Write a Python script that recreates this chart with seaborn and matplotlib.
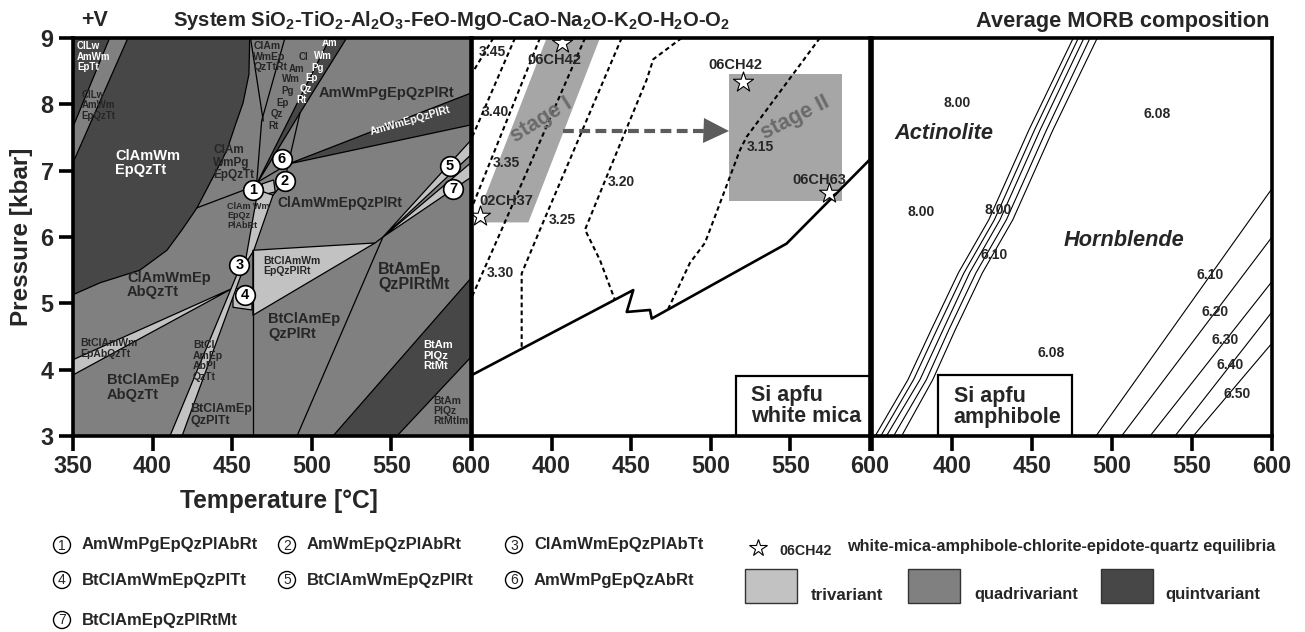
import matplotlib
matplotlib.use("Agg")
import matplotlib.pyplot as plt
from matplotlib.patches import Rectangle
import seaborn as sns

# ------------------------------------------------------------------ data
T_TICKS = [350, 400, 450, 500, 550, 600]
P_TICKS = [3, 4, 5, 6, 7, 8, 9]
T_LABELS_FIRST = ["350", "400", "450", "500", "550", "600"]
T_LABELS_NEXT = ["", "400", "450", "500", "550", "600"]
P_LABELS = ["3", "4", "5", "6", "7", "8", "9"]

# Panel 1: pseudosection fields, (T [°C], P [kbar]) vertices
quint_cllw = [(350, 9), (373, 9), (350, 7.66)]
quint_clamwm = [(384.5, 9), (461.0, 9), (460.5, 8.45), (456.8, 8.02), (451.7, 7.67),
                (446.7, 7.31), (437.9, 6.9), (427.9, 6.44), (418.5, 6.11), (409, 5.8),
                (392, 5.5), (367, 5.31), (350, 5.13), (350, 7.12)]
quint_amwmpg = [(511.4, 9), (521.9, 9), (492.6, 7.87), (465.4, 6.8)]
quint_amwmep = [(485.2, 7.10), (600, 8.17), (600, 7.69)]
quint_btam = [(513.3, 3), (600, 5.38), (600, 4.19), (553.5, 3)]

tri_12 = [(468.7, 6.80), (476.0, 6.86), (477.0, 6.68), (470.0, 6.64)]
tri_clamwm_plab = [(466.2, 6.71), (475.6, 6.63), (463.6, 5.80), (457.9, 5.58)]
tri_btclamwm_ep = [(463, 5.80), (539.7, 5.91), (463, 4.82)]
tri_4 = [(450.5, 5.23), (462.4, 5.2), (462.4, 4.9), (450.5, 4.94)]
tri_btclamwm_ab = [(350, 4.15), (350, 3.92), (450.5, 5.23)]
tri_strip = [(410.9, 3), (418.5, 3), (457.9, 5.58), (455.5, 5.58)]
tri_band5 = [(544.7, 6.0), (600, 7.46), (600, 7.24)]
tri_band7 = [(544.7, 6.0), (600, 7.12), (600, 6.9)]

quint_fields = [quint_cllw, quint_clamwm, quint_amwmpg, quint_amwmep, quint_btam]
tri_fields = [tri_12, tri_clamwm_plab, tri_btclamwm_ep, tri_4, tri_btclamwm_ab,
              tri_strip, tri_band5, tri_band7]

# extra phase boundaries in panel 1
bd_a = [(461.5, 9), (469.5, 7.75)]
bd_b = [(483.1, 9), (468.5, 7.75), (465.4, 6.82)]
bd_c = [(427.9, 6.44), (465.4, 6.78)]
bd_d = [(492.6, 7.87), (485.2, 7.10), (483.0, 6.84)]
bd_e = [(465.4, 6.82), (485.2, 7.10)]
bd_f = [(539.7, 5.91), (544.7, 6.0), (490.7, 3.0)]
bd_g = [(463, 5.80), (463, 3.0)]
bd_h = [(475.6, 6.63), (483.0, 6.84)]
boundaries = [bd_a, bd_b, bd_c, bd_d, bd_e, bd_f, bd_g, bd_h]

# invariant / labelled points in panel 1
circle_ids = ["1", "2", "3", "4", "5", "6", "7"]
circle_T = [463.2, 483.1, 454.5, 458.0, 586.8, 481.1, 588.9]
circle_P = [6.71, 6.84, 5.58, 5.13, 7.07, 7.17, 6.73]

# field labels of panel 1
field_text = ["ClLw\nAmWm\nEpTt", "ClLw\nAmWm\nEpQzTt", "ClAmWm\nEpQzTt",
              "ClAm\nWmPg\nEpQzTt", "ClAm\nWmEp\nQzTtRt", "ClAm Wm\nEpQz\nPlAbRt",
              "ClAmWmEp\nAbQzTt", "BtClAmWm\nEpAbQzTt", "BtClAmEp\nAbQzTt",
              "BtCl\nAmEp\nAbPl\nQzTt", "BtClAmEp\nQzPlTt", "BtClAmWm\nEpQzPlRt",
              "BtClAmEp\nQzPlRt", "BtAmEp\nQzPlRtMt", "BtAm\nPlQz\nRtMt",
              "BtAm\nPlQz\nRtMtIm"]
field_T = [352.5, 355.5, 376.4, 438, 463.2, 446.7, 384, 354.4, 371.3, 425.4, 423.5,
           469.3, 472.5, 541.6, 570, 576]
field_P = [8.95, 8.22, 7.33, 7.40, 8.95, 6.53, 5.49, 4.47, 3.95, 4.44, 3.50, 5.72,
           4.87, 5.63, 4.44, 3.61]
field_white = [True, False, True, False, False, False, False, False, False, False,
               False, False, False, False, True, False]
field_size = [7, 7, 10.5, 8.5, 7.5, 6.5, 10.5, 7.5, 10.5, 7.5, 9, 7.5, 10.5, 11.5, 8, 7.5]

# stacked labels of the narrow fields near the top
cl_stack_text = ["Cl", "Am", "Wm", "Pg", "Ep", "Qz", "Rt"]
cl_stack_T = [495.1, 490.5, 486.7, 484.6, 481.7, 477.9, 475.8]
cl_stack_P = [8.72, 8.53, 8.38, 8.20, 8.02, 7.85, 7.68]
am_stack_text = ["Am", "Wm", "Pg", "Ep", "Qz", "Rt"]
am_stack_T = [511.4, 507.2, 503.4, 499.9, 496.3, 493.6]
am_stack_P = [8.92, 8.73, 8.55, 8.39, 8.23, 8.06]

# Panel 2: white mica Si isopleths
iso_labels = ["3.45", "3.40", "3.35", "3.30", "3.25", "3.20", "3.15"]
iso_345_T = [363.4, 350.6]
iso_345_P = [9.0, 8.49]
iso_340_T = [377.0, 350.0]
iso_340_P = [9.0, 7.50]
iso_335_T = [392.7, 350.0]
iso_335_P = [9.0, 6.45]
iso_330_T = [421.0, 368.6, 350.0]
iso_330_P = [9.0, 6.11, 5.10]
iso_325_T = [444.0, 392.7, 381.2, 381.2]
iso_325_P = [9.0, 6.11, 5.45, 4.31]
iso_320_T = [481.7, 463.9, 459.7, 434.6, 421.0, 430.4, 439.8]
iso_320_P = [9.0, 8.68, 8.37, 6.91, 6.11, 5.65, 5.05]
iso_315_T = [568.5, 522.5, 518.3, 499.5, 496.3, 486.9, 473.3]
iso_315_P = [9.0, 7.51, 7.31, 6.11, 5.91, 5.61, 4.92]
iso_label_T = [362.9, 364.4, 371.8, 368.1, 406.8, 444.0, 531.4]
iso_label_P = [8.79, 7.89, 7.12, 5.45, 6.26, 6.83, 7.36]

limit_T = [350.0, 451.3, 447.2, 461.8, 462.9, 547.6, 600.0]
limit_P = [3.92, 5.20, 4.87, 4.90, 4.77, 5.90, 7.17]

stage1_band = [(396.9, 9.0), (430.4, 9.0), (385.4, 6.22), (351.9, 6.22)]
stage2_T = [511.6, 582.2]
stage2_P = [6.54, 8.46]
arrow_T = [407.3, 511.0]
arrow_P = 7.60

sample_names = ["02CH37", "06CH42", "06CH42", "06CH63"]
sample_T = [355.0, 406.3, 520.0, 574.4]
sample_P = [6.31, 8.92, 8.34, 6.67]
sample_label_T = [371.4, 401.5, 515.2, 568.0]
sample_label_P = [6.55, 8.67, 8.59, 6.86]

# Panel 3: amphibole Si isopleths
bundle_P = [9.0, 7.61, 6.26, 5.46, 4.60, 3.85, 3.0]
bundle_T1 = [475.8, 448.0, 423.0, 404.0, 387.0, 372.5, 352.0]
bundle_T2 = [479.0, 451.5, 426.5, 407.5, 390.5, 376.0, 355.5]
bundle_T3 = [482.5, 455.0, 430.0, 411.0, 394.4, 380.0, 359.0]
bundle_T4 = [486.3, 459.0, 434.0, 415.0, 398.0, 384.0, 363.5]
bundle_T5 = [490.8, 463.0, 438.0, 419.0, 402.0, 388.0, 368.5]
hbl_names = ["6.10", "6.20", "6.30", "6.40", "6.50"]
hbl_T0 = [490.0, 506.0, 523.8, 539.4, 550.8]     # at P = 3 kbar
hbl_P600 = [6.73, 6.00, 5.33, 4.87, 4.40]       # at T = 600 °C
hbl_label_T = [561.3, 564.4, 570.6, 573.8, 578.5]
hbl_label_P = [5.43, 4.87, 4.45, 4.07, 3.64]
amph_text = ["8.00", "6.08", "8.00", "8.00", "6.10", "6.08"]
amph_T = [402.9, 527.9, 380.6, 429.0, 426.3, 461.8]
amph_P = [8.02, 7.86, 6.37, 6.41, 5.73, 4.25]

# legend texts
legend_ids = ["1", "2", "3", "4", "5", "6", "7"]
legend_names = ["AmWmPgEpQzPlAbRt", "AmWmEpQzPlAbRt", "ClAmWmEpQzPlAbTt",
                "BtClAmWmEpQzPlTt", "BtClAmWmEpQzPlRt", "AmWmPgEpQzAbRt",
                "BtClAmEpQzPlRtMt"]
variance_names = ["trivariant", "quadrivariant", "quintvariant"]

# ------------------------------------------------------------------ style
sns.set_theme(style="white")
plt.rcParams["font.family"] = ["Liberation Sans", "DejaVu Sans"]
plt.rcParams["mathtext.fontset"] = "custom"
plt.rcParams["mathtext.bf"] = "Liberation Sans:bold"
plt.rcParams["mathtext.rm"] = "Liberation Sans:bold"
plt.rcParams["mathtext.default"] = "bf"

TRI, QUAD, QUINT = "#c2c2c2", "#808080", "#474747"
DARKTXT = "#262626"

fig = plt.figure(figsize=(13.05, 6.32), dpi=100)
fig.patch.set_facecolor("white")

# overlay axes in pixel units for legend / titles
ov = fig.add_axes([0, 0, 1, 1])
ov.set_xlim(0, 1305)
ov.set_ylim(632, 0)
ov.axis("off")

W1 = 398 / 1305
H = 398 / 632
B = 1 - 436 / 632
ax1 = fig.add_axes([73 / 1305, B, W1, H])
ax2 = fig.add_axes([472 / 1305, B, W1, H])
ax3 = fig.add_axes([872 / 1305, B, 400 / 1305, H])

for i, ax in enumerate([ax1, ax2, ax3]):
    ax.set_xlim(350, 600)
    ax.set_ylim(3, 9)
    for s in ax.spines.values():
        s.set_linewidth(2.6)
        s.set_color("black")
        s.set_zorder(10)
    ax.set_xticks(T_TICKS)
    ax.set_xticklabels(T_LABELS_FIRST if i == 0 else T_LABELS_NEXT,
                       fontweight="bold", fontsize=16.8)
    ax.tick_params(axis="x", bottom=True, direction="out", length=11, width=2.6,
                   pad=3, color="black")
    if i == 0:
        ax.set_yticks(P_TICKS)
        ax.set_yticklabels(P_LABELS, fontweight="bold", fontsize=16.8)
        ax.tick_params(axis="y", left=True, direction="out", length=10, width=2.6,
                       pad=4, color="black")
    else:
        ax.set_yticks([])
    ax.set_xlabel("")
    ax.set_ylabel("")

# ------------------------------------------------------------------ panel 1
ax1.set_facecolor(QUAD)
for poly in quint_fields:
    ax1.fill([p[0] for p in poly], [p[1] for p in poly], facecolor=QUINT,
             edgecolor="black", linewidth=0.9, zorder=1)
for poly in tri_fields:
    ax1.fill([p[0] for p in poly], [p[1] for p in poly], facecolor=TRI,
             edgecolor="black", linewidth=0.9, zorder=1)
for line in boundaries:
    sns.lineplot(x=[p[0] for p in line], y=[p[1] for p in line], ax=ax1,
                 color="black", linewidth=0.9, sort=False, estimator=None, zorder=2)

for txt, t, p, wh, fs in zip(field_text, field_T, field_P, field_white, field_size):
    ax1.text(t, p, txt, color="white" if wh else DARKTXT, fontsize=fs,
             fontweight="bold", ha="left", va="top", linespacing=1.05, zorder=4)
for txt, t, p in zip(cl_stack_text, cl_stack_T, cl_stack_P):
    ax1.text(t, p, txt, color=DARKTXT, fontsize=7, fontweight="bold",
             ha="center", va="center", zorder=4)
for txt, t, p in zip(am_stack_text, am_stack_T, am_stack_P):
    ax1.text(t, p, txt, color="white", fontsize=7, fontweight="bold",
             ha="center", va="center", zorder=4)
ax1.text(547, 8.17, "AmWmPgEpQzPlRt", color=DARKTXT, fontsize=10.5,
         fontweight="bold", ha="center", va="center", zorder=4)
ax1.text(561.7, 7.76, "AmWmEpQzPlRt", color="white", fontsize=7.5,
         fontweight="bold", ha="center", va="center", rotation=16, zorder=4)
ax1.text(517.7, 6.51, "ClAmWmEpQzPlRt", color=DARKTXT, fontsize=10,
         fontweight="bold", ha="center", va="center", zorder=4)

sns.scatterplot(x=circle_T, y=circle_P, ax=ax1, s=200, color="white",
                edgecolor="black", linewidth=1.2, zorder=6, legend=False)
for cid, t, p in zip(circle_ids, circle_T, circle_P):
    ax1.text(t, p, cid, fontsize=10.5, fontweight="bold", color="black",
             ha="center", va="center", zorder=7)

# ------------------------------------------------------------------ panel 2
ax2.set_facecolor("white")
BAND = "#a6a6a6"
ax2.fill([p[0] for p in stage1_band], [p[1] for p in stage1_band],
         facecolor=BAND, edgecolor="none", zorder=1)
ax2.add_patch(Rectangle((stage2_T[0], stage2_P[0]), stage2_T[1] - stage2_T[0],
                        stage2_P[1] - stage2_P[0], facecolor=BAND,
                        edgecolor="none", zorder=1))
iso_T = [iso_345_T, iso_340_T, iso_335_T, iso_330_T, iso_325_T, iso_320_T, iso_315_T]
iso_P = [iso_345_P, iso_340_P, iso_335_P, iso_330_P, iso_325_P, iso_320_P, iso_315_P]
for tt, pp in zip(iso_T, iso_P):
    sns.lineplot(x=tt, y=pp, ax=ax2, color="black", linewidth=1.5,
                 linestyle=(0, (2.2, 1.6)), sort=False, estimator=None, zorder=3)
for lab, t, p in zip(iso_labels, iso_label_T, iso_label_P):
    ax2.text(t, p, lab, fontsize=10, fontweight="bold", color=DARKTXT,
             ha="center", va="center", zorder=4)
sns.lineplot(x=limit_T, y=limit_P, ax=ax2, color="black", linewidth=1.9,
             sort=False, estimator=None, zorder=3)

ARROW = "#5c5c5c"
head_len = 15.5
ax2.plot([arrow_T[0], arrow_T[1] - head_len], [arrow_P, arrow_P], color=ARROW,
         linewidth=3, linestyle=(0, (2.6, 1.3)), zorder=4, solid_capstyle="butt")
ax2.plot([arrow_T[1] - head_len / 2], [arrow_P], marker=">", markersize=18,
         color=ARROW, markeredgewidth=0, zorder=4)
ax2.text(393.8, 7.76, "stage I", fontsize=15.5, fontweight="bold", color="#6a6a6a",
         rotation=32, ha="center", va="center", zorder=4)
ax2.text(552.8, 7.79, "stage II", fontsize=15.5, fontweight="bold", color="#6a6a6a",
         rotation=27, ha="center", va="center", zorder=4)

sns.scatterplot(x=sample_T, y=sample_P, ax=ax2, marker="*", s=230, color="white",
                edgecolor="black", linewidth=0.8, zorder=6, legend=False)
for name, t, p in zip(sample_names, sample_label_T, sample_label_P):
    ax2.text(t, p, name, fontsize=10.5, fontweight="bold", color=DARKTXT,
             ha="center", va="center", zorder=5)

ax2.add_patch(Rectangle((515.8, 3.0), 84.2, 0.91, facecolor="white",
                        edgecolor="black", linewidth=1.6, zorder=7))
ax2.text(525.5, 3.45, "Si apfu\nwhite mica", fontsize=15.5, fontweight="bold",
         color=DARKTXT, ha="left", va="center", linespacing=1.0, zorder=8)

# ------------------------------------------------------------------ panel 3
ax3.set_facecolor("white")
for tt in [bundle_T1, bundle_T2, bundle_T3, bundle_T4, bundle_T5]:
    sns.lineplot(x=tt, y=bundle_P, ax=ax3, color="black", linewidth=0.8,
                 sort=False, estimator=None, zorder=3)
for t0, p6 in zip(hbl_T0, hbl_P600):
    sns.lineplot(x=[t0, 600], y=[3.0, p6], ax=ax3, color="black", linewidth=0.8,
                 sort=False, estimator=None, zorder=3)
for lab, t, p in zip(hbl_names, hbl_label_T, hbl_label_P):
    ax3.text(t, p, lab, fontsize=10, fontweight="bold", color=DARKTXT,
             ha="center", va="center", zorder=4)
for lab, t, p in zip(amph_text, amph_T, amph_P):
    ax3.text(t, p, lab, fontsize=10, fontweight="bold", color=DARKTXT,
             ha="center", va="center", zorder=4)
ax3.text(395, 7.56, "Actinolite", fontsize=15.7, fontweight="bold", style="italic",
         color=DARKTXT, ha="center", va="center", zorder=4)
ax3.text(507.5, 5.95, "Hornblende", fontsize=15.7, fontweight="bold", style="italic",
         color=DARKTXT, ha="center", va="center", zorder=4)
ax3.add_patch(Rectangle((391.5, 3.0), 83.7, 0.92, facecolor="white",
                        edgecolor="black", linewidth=1.6, zorder=7))
ax3.text(401.0, 3.44, "Si apfu\namphibole", fontsize=15.5, fontweight="bold",
         color=DARKTXT, ha="left", va="center", linespacing=1.0, zorder=8)

# ------------------------------------------------------------------ titles / axis labels
ov.text(95, 21, "+V", fontsize=15.5, fontweight="bold", ha="center", va="center")
ov.text(452, 21,
        "System SiO$_2$-TiO$_2$-Al$_2$O$_3$-FeO-MgO-CaO-Na$_2$O-K$_2$O-H$_2$O-O$_2$",
        fontsize=14.6, fontweight="bold", ha="center", va="center")
ov.text(1270, 21, "Average MORB composition", fontsize=15.7, fontweight="bold",
        ha="right", va="center")
ov.text(22, 237, "Pressure [kbar]", fontsize=17.5, fontweight="bold", rotation=90,
        ha="center", va="center")
ov.text(278.5, 501, "Temperature [°C]", fontsize=17.7, fontweight="bold",
        ha="center", va="center")

# ------------------------------------------------------------------ legend
leg_x_circle = [62, 287, 514, 62, 287, 514, 62]
leg_y = [545, 545, 545, 580, 580, 580, 620]
sns.scatterplot(x=leg_x_circle, y=leg_y, ax=ov, s=150, facecolor="none",
                edgecolor="black", linewidth=1.0, legend=False, zorder=3)
for cid, name, x, y in zip(legend_ids, legend_names, leg_x_circle, leg_y):
    ov.text(x, y + 0.5, cid, fontsize=10, ha="center", va="center")
    ov.text(x + 20, y, name, fontsize=12, fontweight="bold", ha="left",
            va="center", color=DARKTXT)

ov.plot([758], [548], marker="*", markersize=13, markerfacecolor="white",
        markeredgecolor="black", markeredgewidth=0.8, linestyle="none")
ov.text(779.5, 551, "06CH42", fontsize=10.3, fontweight="bold", ha="left",
        va="center", color=DARKTXT)
ov.text(847, 547, "white-mica-amphibole-chlorite-epidote-quartz equilibria",
        fontsize=11.7, fontweight="bold", ha="left", va="center", color=DARKTXT)
box_x = [744.6, 907.6, 1100.8]
box_lab_x = [810.6, 974.7, 1165.6]
box_lab_size = [12.2, 11.8, 12.0]
for bx, lx, col, name, fs in zip(box_x, box_lab_x, [TRI, QUAD, QUINT],
                                 variance_names, box_lab_size):
    ov.add_patch(Rectangle((bx, 569), 52, 34, facecolor=col, edgecolor="#333333",
                           linewidth=1.0))
    ov.text(lx, 595, name, fontsize=fs, fontweight="bold", ha="left",
            va="center", color=DARKTXT)

fig.savefig("out.png", dpi=100, facecolor="white")
